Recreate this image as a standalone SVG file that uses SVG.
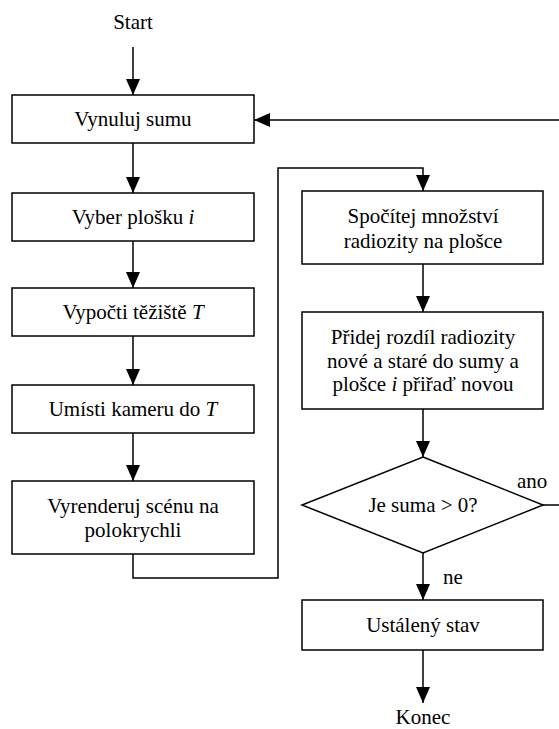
<svg xmlns="http://www.w3.org/2000/svg" width="559" height="729" viewBox="0 0 559 729">
<defs>
<style>
.box{fill:#fff;stroke:#000;stroke-width:1.5}
.ln{fill:none;stroke:#000;stroke-width:1.5}
.c{text-anchor:middle}
</style>
<marker id="ah" markerWidth="16" markerHeight="14" refX="16" refY="7" orient="auto" markerUnits="userSpaceOnUse">
<path d="M0,0 L16,7 L0,14 Z" fill="#000"/>
</marker>
</defs>
<g font-family="'Liberation Serif', 'Times New Roman', Tinos, 'DejaVu Serif', serif" font-size="21" fill="#000">
<g id="connectors">
<line class="ln" x1="133" y1="47" x2="133" y2="95" marker-end="url(#ah)"/>
<line class="ln" x1="133" y1="143" x2="133" y2="193" marker-end="url(#ah)"/>
<line class="ln" x1="133" y1="241" x2="133" y2="288" marker-end="url(#ah)"/>
<line class="ln" x1="133" y1="336" x2="133" y2="385" marker-end="url(#ah)"/>
<line class="ln" x1="133" y1="433" x2="133" y2="481" marker-end="url(#ah)"/>
<polyline class="ln" points="133,554 133,578 278,578 278,168 423,168 423,191" marker-end="url(#ah)"/>
<line class="ln" x1="423" y1="264" x2="423" y2="312" marker-end="url(#ah)"/>
<line class="ln" x1="423" y1="409" x2="423" y2="457" marker-end="url(#ah)"/>
<line class="ln" x1="423" y1="553" x2="423" y2="600" marker-end="url(#ah)"/>
<line class="ln" x1="423" y1="650" x2="423" y2="703" marker-end="url(#ah)"/>
<polyline class="ln" points="543,505 561,505 561,120 254,120" marker-end="url(#ah)"/>
<text x="517" y="488">ano</text>
<text x="443" y="584">ne</text>
</g>
<g id="start"><text class="c" x="133" y="29">Start</text></g>
<g id="vynuluj"><rect class="box" x="12" y="95" width="242" height="48"/><text class="c" x="133" y="126">Vynuluj sumu</text></g>
<g id="vyber"><rect class="box" x="12" y="193" width="242" height="48"/><text class="c" x="133" y="224">Vyber plošku <tspan font-style="italic">i</tspan></text></g>
<g id="vypocti"><rect class="box" x="12" y="288" width="242" height="48"/><text class="c" x="133" y="319">Vypočti těžiště <tspan font-style="italic">T</tspan></text></g>
<g id="umisti"><rect class="box" x="12" y="385" width="242" height="48"/><text class="c" x="133" y="416">Umísti kameru do <tspan font-style="italic">T</tspan></text></g>
<g id="vyrenderuj"><rect class="box" x="12" y="481" width="242" height="73"/><text class="c" x="133" y="513">Vyrenderuj scénu na</text><text class="c" x="133" y="537">polokrychli</text></g>
<g id="spocitej"><rect class="box" x="302" y="191" width="241" height="73"/><text class="c" x="423" y="223">Spočítej množství</text><text class="c" x="423" y="248">radiozity na plošce</text></g>
<g id="pridej"><rect class="box" x="302" y="312" width="241" height="97"/><text class="c" x="423" y="344">Přidej rozdíl radiozity</text><text class="c" x="423" y="368">nové a staré do sumy a</text><text class="c" x="423" y="391">plošce <tspan font-style="italic">i</tspan> přiřaď novou</text></g>
<g id="rozhodnuti"><polygon class="box" points="423,457 543,505 423,553 302,505"/><text class="c" x="423" y="512">Je suma &gt; 0?</text></g>
<g id="ustaleny"><rect class="box" x="302" y="600" width="241" height="50"/><text class="c" x="423" y="632">Ustálený stav</text></g>
<g id="konec"><text class="c" x="423" y="724">Konec</text></g>
</g>
</svg>
